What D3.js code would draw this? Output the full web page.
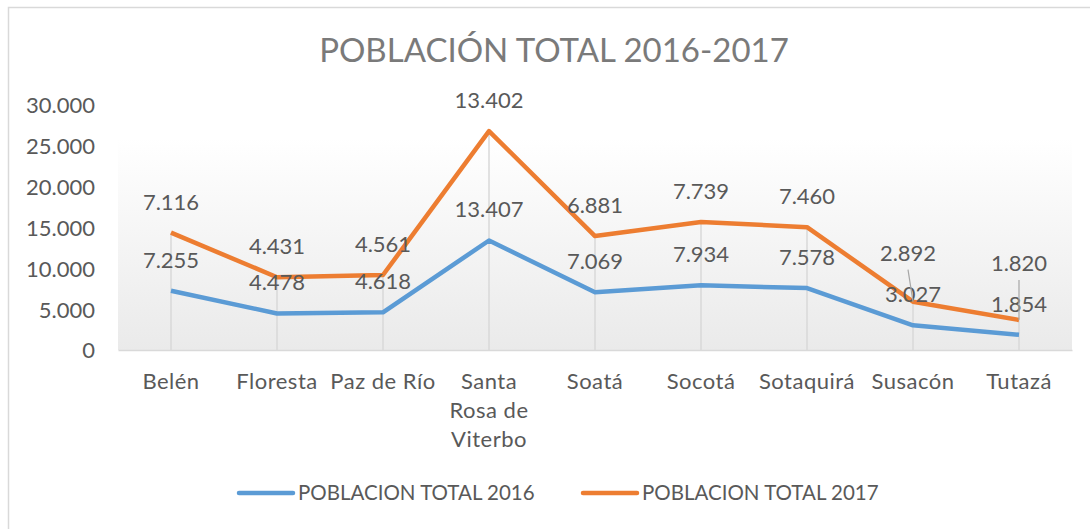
<!DOCTYPE html>
<html>
<head>
<meta charset="utf-8">
<script src="https://cdn.jsdelivr.net/npm/d3@7"></script>
<style>
  body { margin: 0; background: #fff; }
  svg text { font-family: Lato, "Open Sans", sans-serif; fill: #595959; }
</style>
</head>
<body>
<svg width="1090" height="529"></svg>
<script>
// datos
var municipios = ["Belén", "Floresta", "Paz de Río", "Santa Rosa de Viterbo", "Soatá", "Socotá", "Sotaquirá", "Susacón", "Tutazá"];
var pob2016 = [7255, 4478, 4618, 13407, 7069, 7934, 7578, 3027, 1854];
var pob2017 = [7116, 4431, 4561, 13402, 6881, 7739, 7460, 2892, 1820];
var yTicks = [0, 5000, 10000, 15000, 20000, 25000, 30000];
var series = ["POBLACION TOTAL 2016", "POBLACION TOTAL 2017"];
var colores = ["#5b9bd5", "#ed7d31"];

var svg = d3.select("svg"),
    margin = { top: 105, right: 18, bottom: 179, left: 118 },
    width = +svg.attr("width") - margin.left - margin.right,
    height = +svg.attr("height") - margin.top - margin.bottom;

var locale = d3.formatLocale({ decimal: ",", thousands: ".", grouping: [3], currency: ["$", ""] });
var fmt = locale.format(",d");

// borde del grafico (solo se ve arriba e izquierda)
svg.append("rect")
    .attr("x", 8.5).attr("y", 7.5)
    .attr("width", 1200).attr("height", 800)
    .attr("fill", "none").attr("stroke", "#d9d9d9").attr("stroke-width", 1.5);

var defs = svg.append("defs");
var grad = defs.append("linearGradient").attr("id", "fondo")
    .attr("x1", 0).attr("y1", 0).attr("x2", 0).attr("y2", 1);
grad.append("stop").attr("offset", "0%").attr("stop-color", "#ffffff");
grad.append("stop").attr("offset", "100%").attr("stop-color", "#eaeaea");

svg.append("text")
    .attr("x", 554).attr("y", 62)
    .attr("text-anchor", "middle")
    .style("font-size", "33px")
    .style("fill", "#7a7a7a")
    .text("POBLACIÓN TOTAL 2016-2017");

var g = svg.append("g")
    .attr("transform", "translate(" + margin.left + "," + margin.top + ")");

var x = d3.scaleBand().domain(municipios).range([0, width]);
var y = d3.scaleLinear().domain([0, 30000]).range([height, 0]);

// fondo del area de trazado
g.append("rect")
    .attr("x", 0).attr("y", 33)
    .attr("width", width).attr("height", height - 33)
    .attr("fill", "url(#fondo)");

// lineas apiladas
var tabla = municipios.map(function(m, i) {
    return { municipio: m, a: pob2016[i], b: pob2017[i] };
});
var stack = d3.stack().keys(["a", "b"])(tabla);

function cx(d) { return x(d.data.municipio) + x.bandwidth() / 2; }

// lineas de caida hasta la serie superior
g.selectAll(".drop")
    .data(stack[1])
    .enter().append("line")
    .attr("class", "drop")
    .attr("x1", cx).attr("x2", cx)
    .attr("y1", height).attr("y2", function(d) { return y(d[1]); })
    .attr("stroke", "#d9d9d9").attr("stroke-width", 1.5);

// eje X
var xAxis = g.append("g")
    .attr("transform", "translate(0," + height + ")")
    .call(d3.axisBottom(x).tickSize(0).tickPadding(0));
xAxis.select(".domain").attr("stroke", "#d9d9d9").attr("stroke-width", 1.5);
xAxis.selectAll("text").remove();
xAxis.selectAll(".tick").each(function(d) {
    var t = d3.select(this).append("text")
        .attr("text-anchor", "middle")
        .style("font-size", "22px")
        .style("letter-spacing", "0.5px");
    var lineas = d === "Santa Rosa de Viterbo" ? ["Santa", "Rosa de", "Viterbo"] : [d];
    lineas.forEach(function(l, i) {
        t.append("tspan").attr("x", 0).attr("y", 39 + i * 29).text(l);
    });
});

// eje Y
var yAxis = g.append("g")
    .call(d3.axisLeft(y).tickValues(yTicks).tickSize(0).tickPadding(23).tickFormat(fmt));
yAxis.select(".domain").remove();
yAxis.selectAll("text").style("font-size", "22px").attr("dy", "0.36em");

var line = d3.line()
    .x(cx)
    .y(function(d) { return y(d[1]); });

g.selectAll(".serie")
    .data(stack)
    .enter().append("path")
    .attr("class", "serie")
    .attr("d", line)
    .attr("fill", "none")
    .attr("stroke", function(d, i) { return colores[i]; })
    .attr("stroke-width", 4.5)
    .attr("stroke-linejoin", "round");

// desplazamientos de etiquetas movidas a mano
var ajuste = { "b-Susacón": [-5, -49], "b-Tutazá": [0, -57] };
var guias = { "b-Susacón": [[-5, -32], [0, 0]], "b-Tutazá": [[0, -40], [0, 0]] };

stack.forEach(function(s, k) {
    s.forEach(function(d) {
        var key = s.key + "-" + d.data.municipio;
        var off = ajuste[key] || [0, -31];
        var px = cx(d), py = y(d[1]);
        if (guias[key]) {
            g.append("line")
                .attr("x1", px + guias[key][0][0]).attr("y1", py + guias[key][0][1])
                .attr("x2", px + guias[key][1][0]).attr("y2", py + guias[key][1][1])
                .attr("stroke", "#a6a6a6").attr("stroke-width", 1.2);
        }
        g.append("text")
            .attr("x", px + off[0]).attr("y", py + off[1])
            .attr("dy", "0.36em")
            .attr("text-anchor", "middle")
            .style("font-size", "22px")
            .text(fmt(d.data[s.key]));
    });
});

// leyenda
var ley = svg.append("g").attr("transform", "translate(0,493)");
var posLey = [239, 583];
series.forEach(function(nombre, i) {
    ley.append("line")
        .attr("x1", posLey[i]).attr("x2", posLey[i] + 54)
        .attr("stroke", colores[i]).attr("stroke-width", 4.5)
        .attr("stroke-linecap", "round");
    ley.append("text")
        .attr("x", posLey[i] + 59).attr("dy", "0.36em")
        .style("font-size", "20.5px")
        .text(nombre);
});
</script>
</body>
</html>
